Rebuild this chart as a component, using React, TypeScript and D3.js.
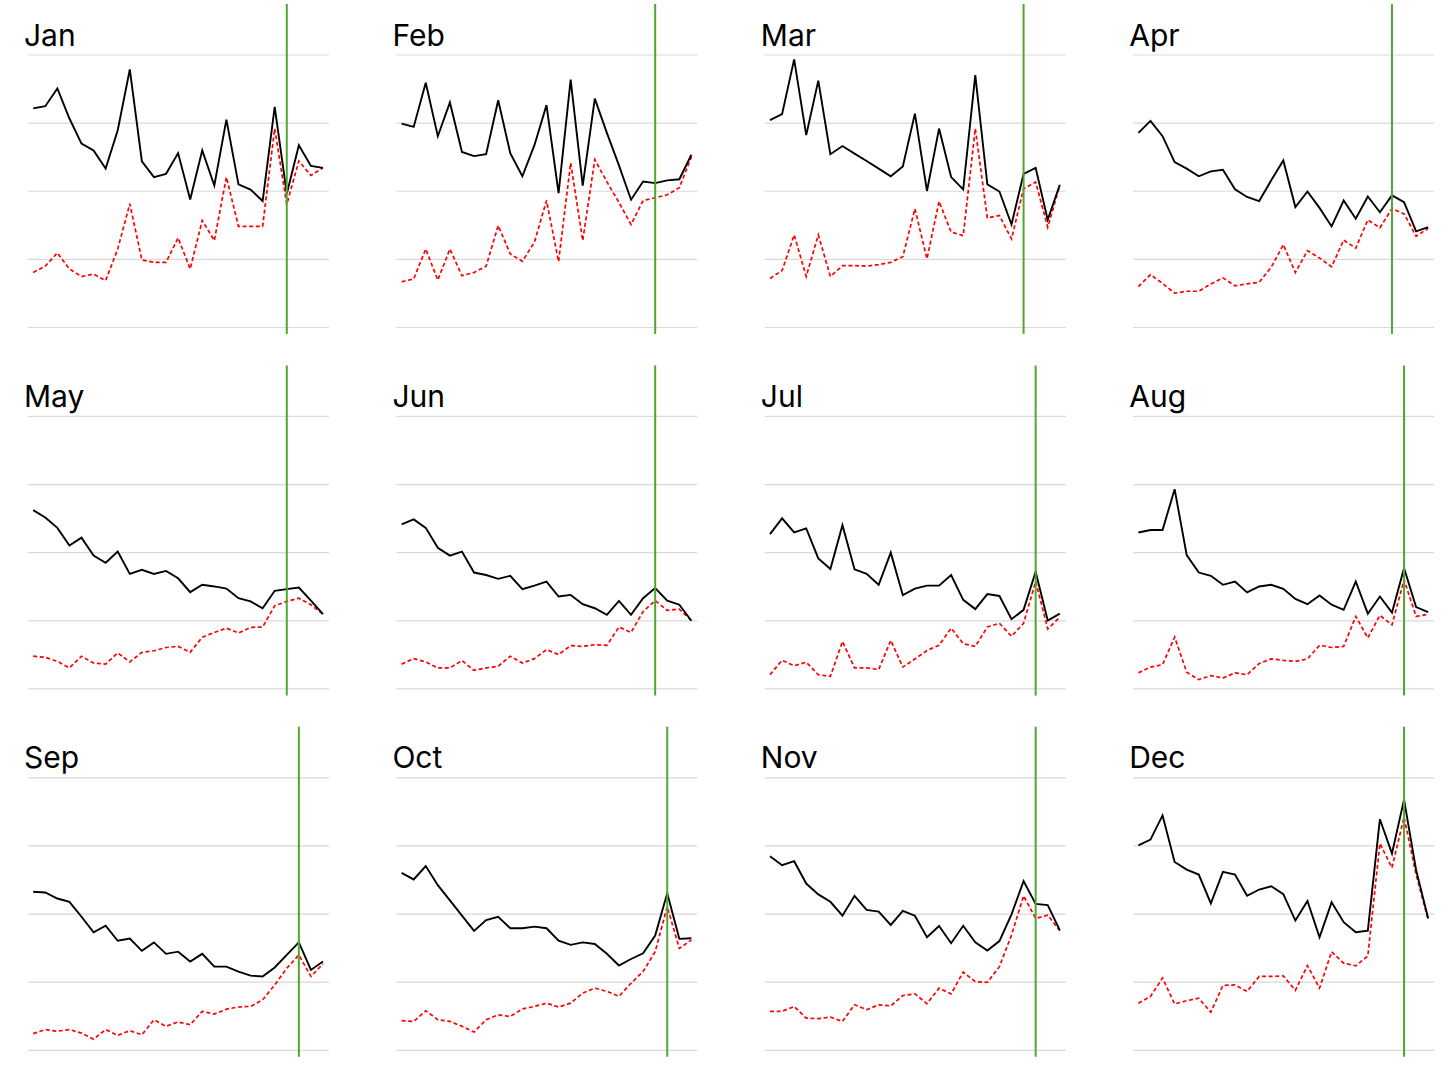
import React from "react";
import * as d3 from "d3";

const months = ["Jan", "Feb", "Mar", "Apr", "May", "Jun", "Jul", "Aug", "Sep", "Oct", "Nov", "Dec"];

// solid black series, one per month
const janBlack = [80.4, 81.2, 87.7, 76.7, 67.5, 65.0, 58.3, 72.4, 94.7, 61.0, 55.2, 56.4, 64.0, 47.0, 65.0, 52.1, 76.3, 52.5, 50.6, 46.4, 81.0, 49.1, 66.9, 59.3, 58.6];
const febBlack = [74.8, 73.6, 89.8, 70.2, 82.6, 64.4, 62.9, 63.6, 83.4, 64.0, 55.5, 66.9, 81.6, 49.3, 91.0, 52.1, 84.0, 71.4, 59.5, 46.9, 53.6, 53.0, 54.0, 54.4, 63.4];
const marBlack = [76.1, 78.3, 98.4, 70.6, 90.6, 63.6, 66.6, 63.8, 61.1, 58.3, 55.5, 59.1, 78.5, 50.1, 73.0, 55.2, 50.7, 92.6, 52.5, 49.9, 37.8, 56.4, 58.6, 39.5, 52.4];
const aprBlack = [71.4, 75.8, 70.2, 60.7, 58.3, 55.5, 57.3, 57.9, 50.7, 47.9, 46.4, 54.0, 61.3, 44.2, 49.9, 43.9, 37.1, 46.6, 39.9, 48.1, 42.3, 48.5, 46.0, 35.3, 36.8];
const mayBlack = [65.6, 62.9, 59.1, 52.6, 55.5, 48.9, 46.3, 50.4, 42.2, 43.7, 42.2, 43.3, 40.6, 35.5, 38.2, 37.6, 36.8, 33.3, 32.1, 29.6, 36.0, 36.6, 37.2, 32.4, 27.4];
const junBlack = [60.4, 62.2, 59.1, 51.8, 48.9, 50.4, 42.7, 41.8, 40.4, 41.5, 36.6, 37.9, 39.4, 33.9, 34.5, 31.1, 29.6, 27.2, 32.3, 27.2, 33.3, 37.0, 32.4, 30.9, 25.0];
const julBlack = [56.8, 62.6, 57.4, 58.9, 47.9, 44.0, 60.1, 43.9, 42.2, 38.2, 50.0, 34.4, 36.8, 37.9, 37.9, 41.8, 32.7, 29.3, 34.8, 34.1, 25.6, 29.0, 43.0, 25.1, 27.6];
const augBlack = [57.4, 58.3, 58.3, 73.3, 49.1, 42.7, 41.5, 38.2, 39.4, 35.4, 37.6, 38.2, 36.7, 33.0, 31.1, 34.3, 30.9, 29.0, 39.4, 27.6, 33.9, 28.0, 44.3, 30.0, 28.2];
const sepBlack = [58.2, 57.9, 55.7, 54.5, 49.0, 43.3, 45.7, 40.2, 41.0, 36.5, 39.6, 35.4, 36.2, 32.6, 35.4, 30.7, 30.7, 28.9, 27.4, 27.1, 30.4, 35.0, 39.6, 29.5, 32.6];
const octBlack = [65.1, 62.7, 67.6, 60.6, 55.0, 49.4, 43.8, 47.8, 49.0, 44.8, 44.8, 45.4, 44.8, 40.2, 38.7, 39.6, 39.0, 35.4, 31.1, 33.5, 35.6, 42.1, 57.6, 40.9, 41.1];
const novBlack = [71.2, 67.9, 69.4, 61.2, 57.2, 54.5, 49.4, 56.7, 51.5, 50.9, 46.0, 51.2, 49.4, 41.5, 45.6, 39.3, 45.7, 39.6, 36.6, 40.1, 49.9, 62.1, 53.7, 53.3, 44.1];
const decBlack = [75.2, 77.3, 86.2, 69.1, 66.3, 64.5, 53.9, 65.5, 64.5, 56.7, 59.0, 60.2, 57.3, 47.6, 54.8, 41.5, 54.3, 47.0, 43.3, 43.9, 84.8, 72.2, 92.0, 66.1, 48.4];

// dashed red series
const janRed = [20.2, 22.5, 27.4, 21.5, 18.7, 19.6, 17.2, 28.8, 45.4, 24.8, 23.9, 23.9, 32.9, 21.5, 39.3, 31.9, 55.2, 37.1, 37.1, 37.1, 73.0, 45.2, 61.1, 55.8, 58.6];
const febRed = [16.8, 17.8, 28.8, 17.4, 28.8, 19.0, 20.2, 22.5, 37.4, 27.0, 24.3, 31.3, 46.6, 24.2, 60.4, 31.9, 61.6, 53.5, 45.9, 37.8, 46.6, 47.6, 48.7, 51.3, 62.6];
const marRed = [18.0, 20.9, 34.0, 18.7, 34.0, 18.7, 22.7, 22.7, 22.5, 23.1, 23.9, 26.0, 43.6, 25.2, 46.3, 35.0, 33.7, 73.0, 40.2, 41.1, 32.5, 50.9, 53.4, 36.8, 52.1];
const aprRed = [15.0, 19.4, 16.2, 12.6, 13.3, 13.3, 16.0, 18.2, 15.3, 16.0, 16.6, 22.1, 30.4, 20.2, 28.2, 25.5, 22.3, 32.1, 29.1, 39.5, 36.6, 43.6, 41.7, 33.5, 36.4];
const mayRed = [12.0, 11.6, 10.1, 7.7, 12.0, 9.5, 9.1, 13.2, 9.9, 13.4, 14.0, 15.2, 15.6, 13.4, 19.0, 20.7, 22.3, 20.5, 22.6, 22.7, 30.5, 32.1, 33.3, 30.9, 27.4];
const junRed = [9.1, 11.1, 9.9, 7.7, 7.7, 10.4, 6.8, 7.7, 8.3, 12.0, 9.5, 11.1, 14.4, 12.6, 15.9, 15.6, 16.2, 16.0, 22.7, 20.7, 28.4, 32.4, 28.8, 29.3, 25.0];
const julRed = [5.2, 10.5, 8.5, 9.8, 5.2, 4.6, 17.4, 7.7, 7.7, 7.1, 17.8, 8.0, 11.0, 14.1, 16.0, 22.3, 16.6, 15.6, 22.7, 24.1, 19.3, 24.1, 39.4, 22.0, 26.3];
const augRed = [5.9, 8.0, 8.9, 19.0, 6.1, 3.4, 4.9, 4.0, 5.9, 5.2, 9.3, 11.0, 10.5, 10.1, 11.0, 16.0, 15.2, 15.6, 26.6, 18.7, 27.0, 23.5, 40.0, 26.6, 27.4];
const sepRed = [6.1, 7.6, 7.0, 7.6, 6.3, 4.1, 7.6, 5.5, 7.2, 5.7, 11.2, 8.8, 10.4, 9.4, 14.3, 13.3, 15.1, 15.9, 16.1, 18.5, 24.0, 30.1, 35.0, 27.1, 31.7];
const octRed = [10.9, 10.6, 14.5, 11.2, 10.6, 8.8, 6.7, 11.2, 13.0, 12.4, 15.2, 16.1, 17.3, 15.9, 17.3, 21.0, 22.8, 21.6, 19.8, 24.6, 28.9, 36.2, 52.7, 37.4, 40.5];
const novRed = [14.3, 14.3, 16.1, 11.8, 11.6, 12.2, 10.6, 16.7, 14.9, 16.7, 16.3, 20.1, 20.7, 17.1, 22.8, 20.7, 28.7, 25.2, 24.9, 30.7, 42.3, 56.7, 48.4, 49.6, 43.9];
const decRed = [17.3, 19.8, 26.5, 17.0, 18.2, 19.1, 14.0, 23.8, 24.0, 21.6, 27.1, 27.1, 27.3, 22.0, 31.1, 22.8, 36.2, 32.0, 31.0, 34.6, 75.9, 67.0, 85.6, 64.5, 47.8];

// index of the point where the green marker sits
const markerIndex = [21, 21, 21, 21, 21, 21, 22, 22, 22, 22, 22, 22];
const gridTicks = [0, 25, 50, 75, 100];

const blackSeries = [janBlack, febBlack, marBlack, aprBlack, mayBlack, junBlack, julBlack, augBlack, sepBlack, octBlack, novBlack, decBlack];
const redSeries = [janRed, febRed, marRed, aprRed, mayRed, junRed, julRed, augRed, sepRed, octRed, novRed, decRed];

const W = 1456;
const H = 1073;
const colX = d3.scaleLinear().domain([0, 3]).range([28, 1133.2]);
const rowY = d3.scaleLinear().domain([0, 2]).range([55, 777.8]);
const panelW = 301;
const gridH = 272.5;

const Panel = ({ idx }: { idx: number }) => {
    const col = idx % 4;
    const row = Math.floor(idx / 4);
    const x0 = colX(col);
    const top = rowY(row);
    const black = blackSeries[idx];
    const red = redSeries[idx];

    const x = d3.scaleLinear().domain([0, black.length - 1]).range([x0 + 5.2, x0 + panelW - 6]);
    const y = d3.scaleLinear().domain([0, 100]).range([top + gridH, top]);
    const line = d3.line<number>().x((d, i) => x(i)).y(d => y(d));
    const gx = x(markerIndex[idx]);

    return (
        <g>
            <text x={x0 - 4} y={top - 9.5} fontFamily="Inter, sans-serif" fontSize={30} fill="#000">
                {months[idx]}
            </text>
            {gridTicks.map(t => (
                <line key={t} x1={x0} x2={x0 + panelW} y1={y(t)} y2={y(t)} stroke="#d9d9d9" strokeWidth={1.2} />
            ))}
            <path d={line(red) || ""} fill="none" stroke="#ff0000" strokeWidth={1.7} strokeDasharray="4,2.6" />
            <path d={line(black) || ""} fill="none" stroke="#000" strokeWidth={1.9} strokeLinejoin="miter" />
            <line x1={gx} x2={gx} y1={top - 51} y2={top + gridH + 6.5} stroke="#4ea72e" strokeWidth={2} />
        </g>
    );
};

export default function App() {
    return (
        <svg width={W} height={H} style={{ position: "absolute", left: 0, top: 0, background: "#fff" }}>
            <rect width={W} height={H} fill="#fff" />
            {months.map((m, i) => (
                <Panel key={m} idx={i} />
            ))}
        </svg>
    );
}
